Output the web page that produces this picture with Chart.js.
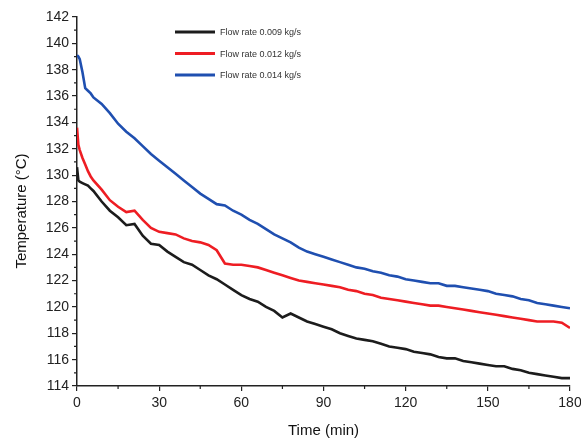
<!DOCTYPE html>
<html>
<head>
<meta charset="utf-8">
<script src="https://cdn.jsdelivr.net/npm/chart.js@4.4.0/dist/chart.umd.min.js"></script>
<style>
  html, body { margin: 0; padding: 0; background: #fff; }
  #wrap { width: 581px; height: 440px; }
</style>
</head>
<body>
<div id="wrap"><canvas id="tempChart" width="581" height="440"></canvas></div>
<script>
// --- DATA ---
const timeMin = [0, 0.5, 1, 2, 3, 4, 5, 6, 9, 12, 15, 18, 21, 24, 27, 30, 33, 36, 39, 42, 45, 48, 51, 54, 57, 60,
  63, 66, 69, 72, 75, 78, 81, 84, 87, 90, 93, 96, 99, 102, 105, 108, 111, 114, 117, 120, 123, 126, 129, 132,
  135, 138, 141, 144, 147, 150, 153, 156, 159, 162, 165, 168, 171, 174, 177, 180];

const flow009 = [130.6, 129.6, 129.5, 129.4, 129.3, 129.2, 129.0, 128.8, 128.0, 127.3, 126.8, 126.2, 126.3, 125.4, 124.8, 124.7,
  124.2, 123.8, 123.4, 123.2, 122.8, 122.4, 122.1, 121.7, 121.3, 120.9, 120.6, 120.4, 120.0, 119.7, 119.2, 119.5,
  119.2, 118.9, 118.7, 118.5, 118.3, 118.0, 117.8, 117.6, 117.5, 117.4, 117.2, 117.0, 116.9, 116.8, 116.6, 116.5,
  116.4, 116.2, 116.1, 116.1, 115.9, 115.8, 115.7, 115.6, 115.5, 115.5, 115.3, 115.2, 115.0, 114.9, 114.8, 114.7,
  114.6, 114.6];

const flow012 = [133.6, 132.3, 131.9, 131.3, 130.8, 130.3, 129.9, 129.6, 128.9, 128.1, 127.6, 127.2, 127.3, 126.6, 126.0, 125.7,
  125.6, 125.5, 125.2, 125.0, 124.9, 124.7, 124.3, 123.3, 123.2, 123.2, 123.1, 123.0, 122.8, 122.6, 122.4, 122.2,
  122.0, 121.9, 121.8, 121.7, 121.6, 121.5, 121.3, 121.2, 121.0, 120.9, 120.7, 120.6, 120.5, 120.4, 120.3, 120.2,
  120.1, 120.1, 120.0, 119.9, 119.8, 119.7, 119.6, 119.5, 119.4, 119.3, 119.2, 119.1, 119.0, 118.9, 118.9, 118.9,
  118.8, 118.4];

const flow014 = [139.1, 139.0, 138.8, 137.8, 136.6, 136.4, 136.2, 135.9, 135.4, 134.7, 133.9, 133.3, 132.8, 132.2, 131.6, 131.1,
  130.6, 130.1, 129.6, 129.1, 128.6, 128.2, 127.8, 127.7, 127.3, 127.0, 126.6, 126.3, 125.9, 125.5, 125.2, 124.9,
  124.5, 124.2, 124.0, 123.8, 123.6, 123.4, 123.2, 123.0, 122.9, 122.7, 122.6, 122.4, 122.3, 122.1, 122.0, 121.9,
  121.8, 121.8, 121.6, 121.6, 121.5, 121.4, 121.3, 121.2, 121.0, 120.9, 120.8, 120.6, 120.5, 120.3, 120.2, 120.1,
  120.0, 119.9];

const seriesLabels = ["Flow rate 0.009 kg/s", "Flow rate 0.012 kg/s", "Flow rate 0.014 kg/s"];
const seriesColors = ["#1c1c1c", "#ee1d23", "#1f4fb0"];

const FONT = "'Liberation Sans', Arial, sans-serif";

// --- HELPERS ---
const toPoints = (vals) => vals.map((v, i) => ({ x: timeMin[i], y: v }));

// draws the small unlabeled ticks between the labeled ones
const minorTicks = {
  id: "minorTicks",
  afterDraw(chart) {
    const ctx = chart.ctx;
    const xs = chart.scales.x;
    const ys = chart.scales.y;
    ctx.save();
    ctx.strokeStyle = "#222";
    ctx.lineWidth = 1.2;
    ctx.beginPath();
    for (let v = 15; v < 180; v += 30) {
      const px = xs.getPixelForValue(v);
      ctx.moveTo(px, xs.top);
      ctx.lineTo(px, xs.top + 3);
    }
    for (let v = 115; v < 142; v += 2) {
      const py = ys.getPixelForValue(v);
      ctx.moveTo(ys.right, py);
      ctx.lineTo(ys.right - 3, py);
    }
    ctx.stroke();
    ctx.restore();
  }
};

// y title sits a bit lower than the plot centre in the original
const yTitle = {
  id: "yTitle",
  afterDraw(chart) {
    const ctx = chart.ctx;
    ctx.save();
    ctx.translate(22, 211);
    ctx.rotate(-Math.PI / 2);
    ctx.font = "15px " + FONT;
    ctx.fillStyle = "#111";
    ctx.textAlign = "center";
    ctx.textBaseline = "middle";
    ctx.fillText("Temperature (°C)", 0, 0);
    ctx.restore();
  }
};

// legend stacked inside the plot, like the original
const insideLegend = {
  id: "insideLegend",
  afterDraw(chart) {
    const ctx = chart.ctx;
    ctx.save();
    ctx.font = "9px " + FONT;
    ctx.textBaseline = "middle";
    chart.data.datasets.forEach((ds, i) => {
      const y = 32 + i * 21.5;
      ctx.strokeStyle = ds.borderColor;
      ctx.lineWidth = 3;
      ctx.beginPath();
      ctx.moveTo(175, y);
      ctx.lineTo(215, y);
      ctx.stroke();
      ctx.fillStyle = "#333";
      ctx.fillText(ds.label, 220, y + 1);
    });
    ctx.restore();
  }
};

// --- CHART ---
const ctx = document.getElementById("tempChart").getContext("2d");
new Chart(ctx, {
  type: "line",
  data: {
    datasets: [flow009, flow012, flow014].map((vals, i) => ({
      label: seriesLabels[i],
      data: toPoints(vals),
      borderColor: seriesColors[i],
      backgroundColor: seriesColors[i],
      borderWidth: 2.6,
      pointRadius: 0,
      tension: 0,
      fill: false
    }))
  },
  options: {
    responsive: false,
    animation: false,
    layout: { padding: { top: 17, right: 11, left: 0, bottom: 0 } },
    plugins: {
      legend: { display: false },
      tooltip: { enabled: false }
    },
    scales: {
      x: {
        type: "linear",
        min: 0,
        max: 180,
        afterFit: (scale) => { scale.height = 54; scale.paddingRight = 0; },
        ticks: {
          stepSize: 30,
          color: "#222",
          padding: 4,
          maxRotation: 0,
          font: { family: FONT, size: 14 }
        },
        grid: { drawOnChartArea: false, color: "#222", lineWidth: 1.2, tickLength: 5 },
        border: { color: "#222", width: 1.5 },
        title: {
          display: true,
          text: "Time (min)",
          color: "#111",
          padding: { top: 2, bottom: 0 },
          font: { family: FONT, size: 15 }
        }
      },
      y: {
        min: 114,
        max: 142,
        afterFit: (scale) => { scale.width = 77; },
        ticks: {
          stepSize: 2,
          color: "#222",
          padding: 3,
          font: { family: FONT, size: 14 }
        },
        grid: { drawOnChartArea: false, color: "#222", lineWidth: 1.2, tickLength: 5 },
        border: { color: "#222", width: 1.5 }
      }
    }
  },
  plugins: [minorTicks, yTitle, insideLegend]
});
</script>
</body>
</html>
